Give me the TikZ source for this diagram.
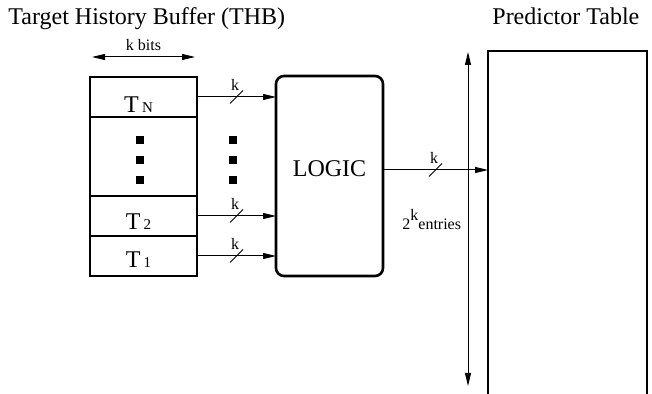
\documentclass[tikz,border=0pt]{standalone}
\usepackage{fontspec}
\setmainfont{Liberation Serif}
\usetikzlibrary{arrows.meta, positioning, calc}
\tikzset{
    >={Triangle[length=6.5pt, width=3pt]},
    x=0.5pt, y=-0.5pt,
    thb_title/.style={
        anchor=base west,
        inner sep=0pt,
        font=\fontsize{12}{14}\selectfont
    },
    thb_row/.style={
        rectangle,
        draw,
        line width=1.3pt,
        outer sep=0pt,
        minimum width=53.5pt,
        minimum height=20pt
    },
    row_text/.style={
        anchor=base,
        inner sep=0pt
    },
    logic_box/.style={
        rectangle,
        rounded corners=4pt,
        draw,
        line width=1.3pt,
        outer sep=0pt,
        minimum width=53.5pt,
        minimum height=100pt
    },
    table_box/.style={
        rectangle,
        draw,
        line width=1.3pt,
        outer sep=0pt,
        minimum width=79.5pt,
        minimum height=200pt
    },
    dot_sq/.style={
        rectangle,
        fill=black,
        inner sep=0pt,
        minimum size=3.6pt
    },
    small_label/.style={
        inner sep=0pt,
        font=\fontsize{8}{9}\selectfont
    },
    bus_arrow/.style={
        ->,
        line width=0.5pt
    },
    span_arrow/.style={
        <->,
        line width=0.5pt
    }
}
% slash across a bus, with its width above
\newcommand{\kslash}[1]{
    \draw[line width=0.5pt] ($(#1)+(-6.5,6.5)$) -- ($(#1)+(6.5,-6.5)$);
    \node[small_label, anchor=base] at ($(#1)+(-1.5,-6.5)$) {k};
}
\newcommand{\rowtext}[2]{{\fontsize{12}{12}\selectfont #1}\,{\fontsize{7.5}{8}\selectfont #2}}

\begin{document}
\begin{tikzpicture}
\useasboundingbox (0,0) rectangle (652,394);

% --- Titles ---
\node[thb_title] (thbTitle) at (8,25) {Target History Buffer (THB)};
\node[thb_title] (tabTitle) at (492,25) {Predictor Table};

% --- k bits ---
\coordinate (kb_l) at (92,57);
\coordinate (kb_r) at (195,57);
\draw[span_arrow] (kb_l) -- (kb_r);
\node[small_label, anchor=base] (kbits) at (143.5,51) {k bits};

% --- Buffer ---
\node[thb_row] (tn) at (143.5,97) {};
\node[thb_row, minimum height=39.5pt, below=0pt of tn] (tdots) {};
\node[thb_row, below=0pt of tdots] (t2) {};
\node[thb_row, below=0pt of t2] (t1) {};
\node[row_text] (tnText) at ($(tn.center)+(-5,16)$) {\rowtext{T}{N}};
\node[row_text] (t2Text) at ($(t2.center)+(-5,14)$) {\rowtext{T}{2}};
\node[row_text] (t1Text) at ($(t1.center)+(-5,12)$) {\rowtext{T}{1}};

\foreach \y in {140,160,180} {
    \node[dot_sq] at (140,\y) {};
    \node[dot_sq] at (233,\y) {};
}

% --- Logic ---
\node[logic_box] (logic) at (329.5,176) {};
\node[row_text, font=\fontsize{12}{14}\selectfont] (logicText) at (329.5,177) {LOGIC};

% --- Predictor Table ---
\node[table_box, anchor=north west] (table) at (488,51) {};
\coordinate (ent_top) at (468,52);
\coordinate (ent_bot) at (468,386);
\draw[span_arrow] (ent_top) -- (ent_bot);
\node[small_label, anchor=base west] (entries) at (402,230) {2\raisebox{4.5pt}{k}entries};

% --- Buses ---
\draw[bus_arrow] (tn.east) -- coordinate[midway] (bN) (tn.east -| logic.west);
\draw[bus_arrow] (t2.east) -- coordinate[midway] (b2) (t2.east -| logic.west);
\draw[bus_arrow] (t1.east) -- coordinate[midway] (b1) (t1.east -| logic.west);
\kslash{bN}
\kslash{b2}
\kslash{b1}

\coordinate (out_y) at (0,170);
\draw[bus_arrow] (logic.east |- out_y) -- coordinate[midway] (bOut) (table.west |- out_y);
\kslash{bOut}

\end{tikzpicture}
\end{document}
